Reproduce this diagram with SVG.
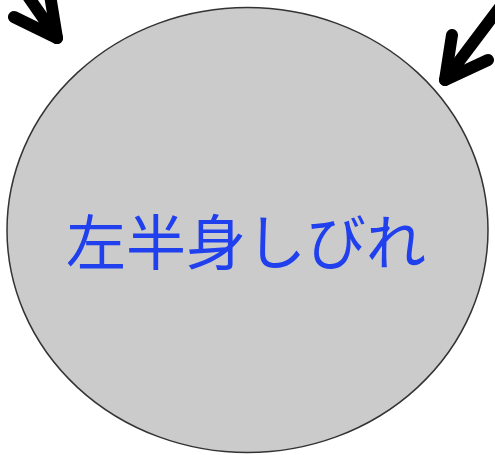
<svg xmlns="http://www.w3.org/2000/svg" width="495" height="455" viewBox="0 0 495 455">
<style>
.arrow{fill:none;stroke:#000;stroke-width:12;stroke-linecap:round;stroke-linejoin:round}
.lbl{font-family:"Noto Sans CJK JP","Noto Sans CJK SC",sans-serif;font-size:60px;fill:#2040ee}
</style>
<rect width="495" height="455" fill="#fff"/>
<g id="node-circle">
<ellipse cx="247.5" cy="230" rx="240.5" ry="222.5" fill="#cbcbcb" stroke="#333" stroke-width="1.5"/>
<text class="lbl" x="246" y="265" text-anchor="middle">左半身しびれ</text>
</g>
<g id="connectors">
<g id="arrow-left">
<path class="arrow" d="M57,38 L25,-8"/>
<path class="arrow" d="M14,17 L57,38 L50,-5"/>
</g>
<g id="arrow-right">
<path class="arrow" d="M445,80 L500,7"/>
<path class="arrow" d="M452,35 L445,80 L488,60"/>
</g>
</g>
</svg>
